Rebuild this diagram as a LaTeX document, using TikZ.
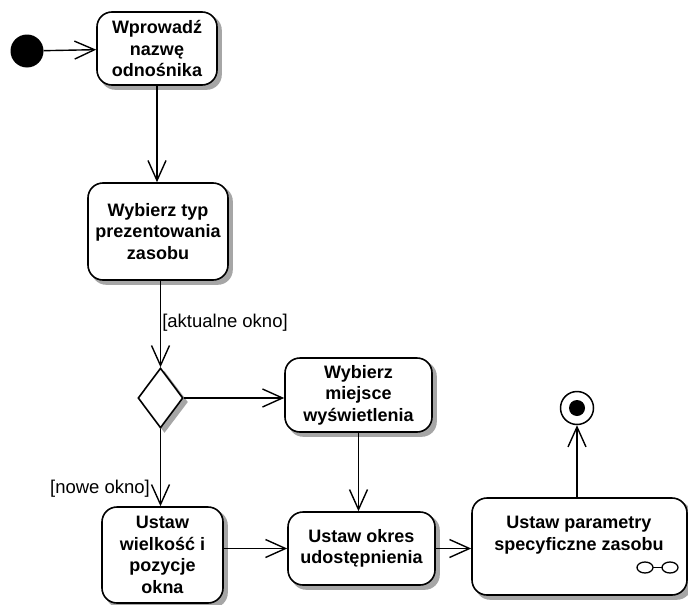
\documentclass[tikz,border=0pt]{standalone}
\usepackage{fontspec}
\setmainfont{Liberation Sans}
\usetikzlibrary{arrows.meta,shapes.geometric}
\pgfdeclarelayer{bg}
\pgfsetlayers{bg,main}
\begin{document}
\begin{tikzpicture}[x=1pt,y=-1pt,
  act/.style={draw, line width=1.6pt, rounded corners=15pt, fill=white, align=center,
    font=\fontsize{18}{21.5}\selectfont\bfseries, inner sep=0pt},
  shadowfill/.style={fill=black!35, rounded corners=15pt},
  flow/.style={line width=1.4pt, -{Straight Barb[length=20pt,width=18pt,line width=1.4pt]}},
  guard/.style={font=\fontsize{18.5}{20}\selectfont, inner sep=0pt}]
\useasboundingbox (0,0) rectangle (688,605);

\node[circle, fill=black, minimum size=33pt, inner sep=0pt] (start) at (27,51) {};
\node[act, minimum width=120pt, minimum height=73pt] (a1) at (157,48.5) {Wprowadź\\nazwę\\odnośnika};
\node[act, minimum width=140pt, minimum height=97pt] (a2) at (158,231.5) {Wybierz typ\\prezentowania\\zasobu};
\node[diamond, draw, line width=1.6pt, fill=white, inner sep=0pt, minimum width=45pt, minimum height=60pt] (d) at (160.5,398) {};
\node[act, minimum width=147pt, minimum height=74pt] (a3) at (358.5,395) {Wybierz\\miejsce\\wyświetlenia};
\node[act, minimum width=121pt, minimum height=96pt] (a4) at (162.5,555) {Ustaw\\wielkość i\\pozycje\\okna};
\node[act, minimum width=147pt, minimum height=73pt] (a5) at (361.5,548.5) {Ustaw okres\\udostępnienia};
\node[act, minimum width=215pt, minimum height=97pt] (a6) at (579.5,546.5) {};
\node[font=\fontsize{18}{21.5}\selectfont\bfseries, align=center, inner sep=0pt] (a6t) at (579,535) {Ustaw parametry\\specyficzne zasobu};
\draw[line width=1.3pt] (645,567.5) ellipse [x radius=8pt, y radius=5.5pt];
\draw[line width=1.3pt] (670,567.5) ellipse [x radius=8pt, y radius=5.5pt];
\draw[line width=1.3pt] (653,567.5) -- (662,567.5);

\node[circle, draw, line width=1.5pt, fill=white, minimum size=33pt, inner sep=0pt] (end) at (577,408) {};
\fill[black] (end.center) circle [radius=8pt];

\begin{pgfonlayer}{bg}
  \fill[white] (0,0) rectangle (688,605);
  \foreach \n in {a1,a2,a3,a4,a5,a6}
    \fill[shadowfill] ([shift={(4,4)}]\n.south west) rectangle ([shift={(4,4)}]\n.north east);
  \fill[black!35] ([shift={(4,4)}]d.north) -- ([shift={(4,4)}]d.east) -- ([shift={(4,4)}]d.south) -- ([shift={(4,4)}]d.west) -- cycle;
\end{pgfonlayer}

\node[guard] (g1) at (225,323) {[aktualne okno]};
\node[guard] (g2) at (100,489) {[nowe okno]};

\draw[flow] (start) -- (a1);
\draw[flow] (a1.south) -- (a1.south |- a2.north);
\draw[flow] (a2.south -| d.north) -- (d.north);
\draw[flow] (d.east) -- (d.east -| a3.west);
\draw[flow] (d.south) -- (d.south |- a4.north);
\draw[flow] (a3.south) -- (a3.south |- a5.north);
\draw[flow] (a4.east |- a5.west) -- (a5.west);
\draw[flow] (a5.east) -- (a5.east -| a6.west);
\draw[flow] (a6.north -| end.south) -- (end.south);
\end{tikzpicture}
\end{document}
